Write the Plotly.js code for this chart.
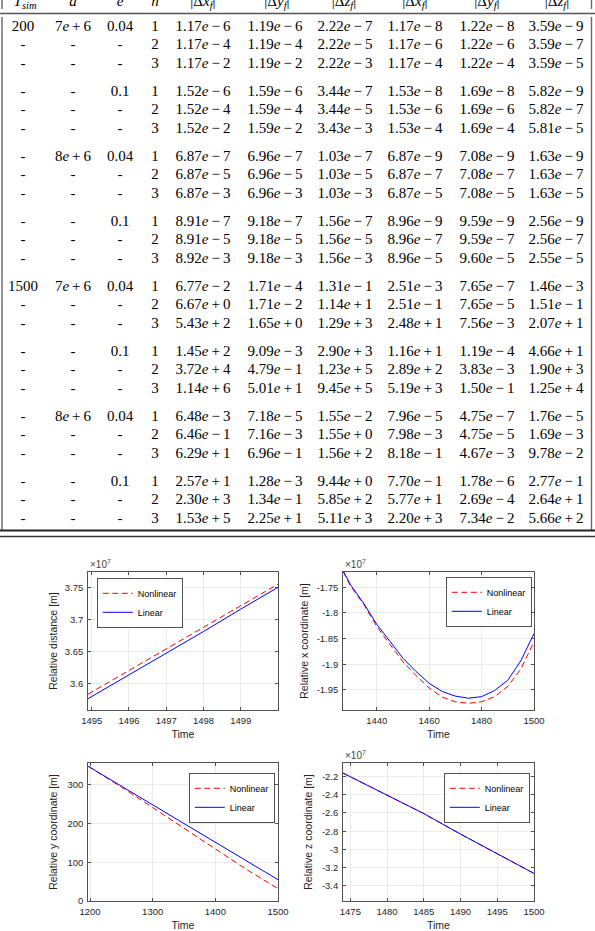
<!DOCTYPE html>
<html><head><meta charset="utf-8">
<script src="https://cdn.plot.ly/plotly-3.0.1.min.js"></script>
<style>html,body{margin:0;padding:0;background:#fff}#chart{width:595px;height:931px}</style>
</head><body><div id="chart"></div>
<script>
// ================= TABLE DATA =================
const tableHeaders = ["<i>T</i><sub><i>sim</i></sub>", "<i>a</i>", "<i>e</i>", "<i>n</i>",
  "|Δ<i>x</i><sub><i>f</i></sub>|", "|Δ<i>y</i><sub><i>f</i></sub>|", "|Δ<i>z</i><sub><i>f</i></sub>|",
  "|Δ<i>x\u0307</i><sub><i>f</i></sub>|", "|Δ<i>y\u0307</i><sub><i>f</i></sub>|", "|Δ<i>z\u0307</i><sub><i>f</i></sub>|"];
const colTsim = ["200","-","-","-","-","-","-","-","-","-","-","-","1500","-","-","-","-","-","-","-","-","-","-","-"];
const colA = ["7e+6","-","-","-","-","-","8e+6","-","-","-","-","-","7e+6","-","-","-","-","-","8e+6","-","-","-","-","-"];
const colE = ["0.04","-","-","0.1","-","-","0.04","-","-","0.1","-","-","0.04","-","-","0.1","-","-","0.04","-","-","0.1","-","-"];
const colN = [1,2,3,1,2,3,1,2,3,1,2,3,1,2,3,1,2,3,1,2,3,1,2,3];
const dXf = [1.17e-6,1.17e-4,1.17e-2, 1.52e-6,1.52e-4,1.52e-2, 6.87e-7,6.87e-5,6.87e-3, 8.91e-7,8.91e-5,8.92e-3,
             6.77e-2,6.67e+0,5.43e+2, 1.45e+2,3.72e+4,1.14e+6, 6.48e-3,6.46e-1,6.29e+1, 2.57e+1,2.30e+3,1.53e+5];
const dYf = [1.19e-6,1.19e-4,1.19e-2, 1.59e-6,1.59e-4,1.59e-2, 6.96e-7,6.96e-5,6.96e-3, 9.18e-7,9.18e-5,9.18e-3,
             1.71e-4,1.71e-2,1.65e+0, 9.09e-3,4.79e-1,5.01e+1, 7.18e-5,7.16e-3,6.96e-1, 1.28e-3,1.34e-1,2.25e+1];
const dZf = [2.22e-7,2.22e-5,2.22e-3, 3.44e-7,3.44e-5,3.43e-3, 1.03e-7,1.03e-5,1.03e-3, 1.56e-7,1.56e-5,1.56e-3,
             1.31e-1,1.14e+1,1.29e+3, 2.90e+3,1.23e+5,9.45e+5, 1.55e-2,1.55e+0,1.56e+2, 9.44e+0,5.85e+2,5.11e+3];
const dVXf = [1.17e-8,1.17e-6,1.17e-4, 1.53e-8,1.53e-6,1.53e-4, 6.87e-9,6.87e-7,6.87e-5, 8.96e-9,8.96e-7,8.96e-5,
              2.51e-3,2.51e-1,2.48e+1, 1.16e+1,2.89e+2,5.19e+3, 7.96e-5,7.98e-3,8.18e-1, 7.70e-1,5.77e+1,2.20e+3];
const dVYf = [1.22e-8,1.22e-6,1.22e-4, 1.69e-8,1.69e-6,1.69e-4, 7.08e-9,7.08e-7,7.08e-5, 9.59e-9,9.59e-7,9.60e-5,
              7.65e-7,7.65e-5,7.56e-3, 1.19e-4,3.83e-3,1.50e-1, 4.75e-7,4.75e-5,4.67e-3, 1.78e-6,2.69e-4,7.34e-2];
const dVZf = [3.59e-9,3.59e-7,3.59e-5, 5.82e-9,5.82e-7,5.81e-5, 1.63e-9,1.63e-7,1.63e-5, 2.56e-9,2.56e-7,2.55e-5,
              1.46e-3,1.51e-1,2.07e+1, 4.66e+1,1.90e+3,1.25e+4, 1.76e-5,1.69e-3,9.78e-2, 2.77e-1,2.64e+1,5.66e+2];

// ================= PLOT DATA (values in units of 1e7 where noted) =================
// Plot 1: relative distance [x1e7 m]
const t1 = [1494.9, 1496, 1497, 1498, 1499, 1500];
const dist1Nonlin = [3.583, 3.620, 3.654, 3.688, 3.721, 3.755];
const dist1Lin    = [3.576, 3.613, 3.647, 3.681, 3.716, 3.750];
// Plot 2: relative x coordinate [x1e7 m]
const t2 = [1427.2, 1430, 1435, 1440, 1445, 1450, 1455, 1460, 1465, 1470, 1475, 1480, 1485, 1490, 1495, 1500];
const x2Nonlin = [-1.719, -1.7475, -1.783, -1.826, -1.861, -1.895, -1.922, -1.946, -1.964, -1.973, -1.976, -1.973, -1.963, -1.943, -1.909, -1.856];
const x2Lin    = [-1.718, -1.745, -1.781, -1.822, -1.855, -1.888, -1.914, -1.937, -1.953, -1.962, -1.966, -1.963, -1.951, -1.931, -1.893, -1.840];
// Plot 3: relative y coordinate [m]
const t3 = [1197, 1250, 1300, 1350, 1400, 1450, 1500];
const y3Nonlin = [347.5, 294, 241, 188, 135, 81, 32];
const y3Lin    = [347.5, 296, 248, 199.5, 152, 103, 55];
// Plot 4: relative z coordinate [x1e7 m]
const t4 = [1474, 1480, 1485, 1490, 1495, 1500];
const z4Nonlin = [-2.163, -2.405, -2.607, -2.832, -3.048, -3.263];
const z4Lin    = [-2.163, -2.405, -2.607, -2.832, -3.048, -3.263];

// tick labels
const tick1x = [1495, 1496, 1497, 1498, 1499];
const tick1y = [3.6, 3.65, 3.7, 3.75];      const tick1yText = ["3.6", "3.65", "3.7", "3.75"];
const tick2x = [1440, 1460, 1480, 1500];
const tick2y = [-1.95, -1.9, -1.85, -1.8, -1.75]; const tick2yText = ["-1.95", "-1.9", "-1.85", "-1.8", "-1.75"];
const tick3x = [1200, 1300, 1400, 1500];
const tick3y = [0, 100, 200, 300];           const tick3yText = ["0", "100", "200", "300"];
const tick4x = [1475, 1480, 1485, 1490, 1495, 1500];
const tick4y = [-3.4, -3.2, -3, -2.8, -2.6, -2.4, -2.2];
const tick4yText = ["-3.4", "-3.2", "-3", "-2.8", "-2.6", "-2.4", "-2.2"];
const seriesNames = ["Nonlinear", "Linear"];

// ================= LAYOUT HELPERS =================
const W = 595, H = 931;
const colX = [23, 73, 120, 155, 203, 275, 345, 415, 487, 556];
const headerX = [25, 73, 120, 155, 203, 277, 344, 415, 487, 557];
const headerY = 2.5;
const rowY = colN.map((n, i) => 27 + 65 * Math.floor(i / 3) + 18.5 * (i % 3));

function fmtE(v) {
  const s = v.toExponential(2);
  const [m, e] = s.split('e');
  const sign = e[0] === '-' ? '\u2212' : '+';
  return m + '<i>e</i>\u2009' + sign + '\u2009' + e.slice(1);
}
function fmtA(s) {
  if (s === '-') return s;
  const [m, e] = s.split('e');
  const sign = e[0] === '-' ? '\u2212' : '+';
  return m + '<i>e</i>\u2009' + sign + '\u2009' + e.slice(1);
}

const serif = 'Liberation Serif, Times New Roman, serif';
const sans = 'Liberation Sans, Arial, Helvetica, sans-serif';
const txtCol = '#262626';
const tableFont = {family: serif, size: 15, color: '#000'};

const tableCols = [
  colTsim.map(String), colA.map(fmtA), colE.map(String), colN.map(String),
  dXf.map(fmtE), dYf.map(fmtE), dZf.map(fmtE), dVXf.map(fmtE), dVYf.map(fmtE), dVZf.map(fmtE)
];

const traces = [];
tableCols.forEach((col, c) => {
  traces.push({
    type: 'scatter', mode: 'text', xaxis: 'x5', yaxis: 'y5',
    x: col.map(() => colX[c]), y: rowY, text: col,
    textposition: 'middle center', textfont: tableFont,
    hoverinfo: 'skip', showlegend: false
  });
});
traces.push({
  type: 'scatter', mode: 'text', xaxis: 'x5', yaxis: 'y5',
  x: headerX, y: headerX.map(() => headerY), text: tableHeaders,
  textposition: 'middle center', textfont: tableFont,
  hoverinfo: 'skip', showlegend: false
});

function addPair(t, yn, yl, ax, leg) {
  traces.push({type: 'scatter', mode: 'lines', x: t, y: yn, name: seriesNames[0],
    xaxis: 'x' + ax, yaxis: 'y' + ax, legend: leg,
    line: {color: '#ff0000', width: 1, dash: '6px,3.5px'}, hoverinfo: 'skip'});
  traces.push({type: 'scatter', mode: 'lines', x: t, y: yl, name: seriesNames[1],
    xaxis: 'x' + ax, yaxis: 'y' + ax, legend: leg,
    line: {color: '#0000ff', width: 1}, hoverinfo: 'skip'});
}
addPair(t1, dist1Nonlin, dist1Lin, '', 'legend');
addPair(t2, x2Nonlin, x2Lin, '2', 'legend2');
addPair(t3, y3Nonlin, y3Lin, '3', 'legend3');
addPair(t4, z4Nonlin, z4Lin, '4', 'legend4');

function px2fx(px) { return px / W; }
function px2fy(py) { return 1 - py / H; }

function axis(domain, range, tickvals, ticktext, title, anchor, standoff) {
  const a = {
    domain: domain, range: range, autorange: false, anchor: anchor,
    tickmode: 'array', tickvals: tickvals, ticktext: ticktext,
    showline: true, linecolor: txtCol, linewidth: 0.8, mirror: 'ticks',
    ticks: 'inside', ticklen: 3, tickwidth: 0.8, tickcolor: txtCol, ticklabelstandoff: 2,
    showgrid: true, gridcolor: '#e3e3e3', gridwidth: 0.7, zeroline: false,
    tickfont: {family: sans, size: 9.5, color: txtCol},
    title: {text: title, font: {family: sans, size: 10.5, color: txtCol}},
    fixedrange: true, automargin: false
  };
  if (standoff !== undefined) a.title.standoff = standoff;
  return a;
}

const dxL = [px2fx(88), px2fx(278)], dxR = [px2fx(343), px2fx(534)];
const dyT = [px2fy(710), px2fy(572)], dyB = [px2fy(901), px2fy(763)];

function legendAt(px, py) {
  return {x: px2fx(px), y: px2fy(py), xanchor: 'left', yanchor: 'top', xref: 'paper', yref: 'paper',
    bgcolor: '#ffffff', bordercolor: txtCol, borderwidth: 0.8,
    font: {family: sans, size: 9, color: '#000'}, itemwidth: 30, tracegroupgap: 0};
}

function expAnn(ax) {
  return {xref: 'x' + ax + ' domain', yref: 'y' + ax + ' domain', x: 0, y: 1, xanchor: 'left', yanchor: 'bottom',
    text: '×10<sup>7</sup>', showarrow: false, font: {family: sans, size: 10, color: '#444'}};
}

const shp = (x0, y0, x1, y1, color, width) => ({type: 'line', xref: 'x5', yref: 'y5', x0, y0, x1, y1,
  line: {color, width}});

const layout = {
  width: W, height: H, margin: {l: 0, r: 0, t: 0, b: 0},
  paper_bgcolor: '#fff', plot_bgcolor: '#fff', showlegend: true,
  font: {family: sans, color: txtCol},
  xaxis:  axis(dxL, [1494.9, 1500], tick1x, tick1x.map(String), 'Time', 'y', 5),
  yaxis:  axis(dyT, [3.5583, 3.774], tick1y, tick1yText, 'Relative distance [m]', 'x'),
  xaxis2: axis(dxR, [1427.15, 1500], tick2x, tick2x.map(String), 'Time', 'y2', 5),
  yaxis2: axis(dyT, [-1.989, -1.7202], tick2y, tick2yText, 'Relative x coordinate [m]', 'x2', 5),
  xaxis3: axis(dxL, [1196.8, 1500], tick3x, tick3x.map(String), 'Time', 'y3', 5),
  yaxis3: axis(dyB, [0, 356], tick3y, tick3yText, 'Relative y coordinate [m]', 'x3'),
  xaxis4: axis(dxR, [1474, 1500], tick4x, tick4x.map(String), 'Time', 'y4', 5),
  yaxis4: axis(dyB, [-3.565, -2.0525], tick4y, tick4yText, 'Relative z coordinate [m]', 'x4'),
  xaxis5: {domain: [0, 1], range: [0, W], visible: false, fixedrange: true, anchor: 'y5'},
  yaxis5: {domain: [1 - 540 / H, 1], range: [540, 0], visible: false, fixedrange: true, anchor: 'x5'},
  legend: legendAt(97, 578),
  legend2: legendAt(446, 577),
  legend3: legendAt(189, 773),
  legend4: legendAt(444, 773),
  annotations: [expAnn(''), expAnn('2'), expAnn('4')],
  shapes: [
    shp(0, 13.5, W, 13.5, '#555', 1.6),
    shp(2, 0, 2, 9, '#666', 1.4), shp(2, 17, 2, 530, '#666', 1.4),
    shp(591.5, 0, 591.5, 9, '#666', 1.4), shp(591.5, 17, 591.5, 530, '#666', 1.4),
    shp(0, 530.5, W, 530.5, '#222', 2.2), shp(0, 536.5, W, 536.5, '#333', 1.4)
  ]
};

Plotly.newPlot('chart', traces, layout, {displayModeBar: false, staticPlot: true});
</script>
</body></html>
